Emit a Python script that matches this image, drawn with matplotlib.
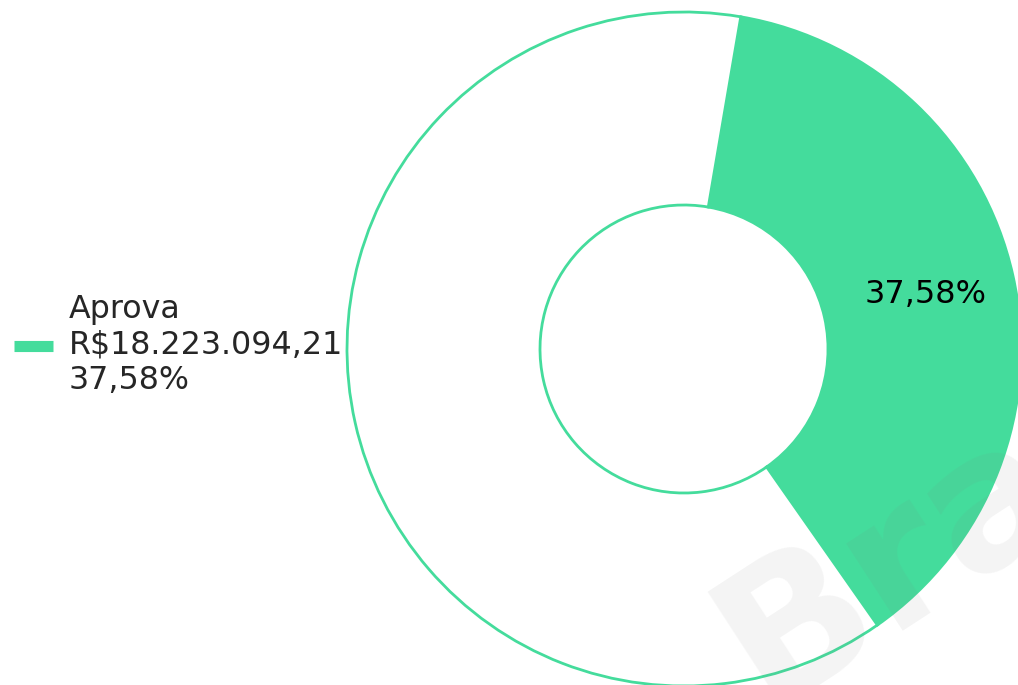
import matplotlib.pyplot as plt
from matplotlib.lines import Line2D

# =========================
# DATA
# =========================
categorias = ["Aprova", "Restante"]
valores = [18223094.21, 30268375.00]
legenda_valor = "R$18.223.094,21"
legenda_pct = "37,58%"

VERDE = "#44DC9C"

# =========================
# FIGURE
# =========================
W, H = 1018, 685
fig = plt.figure(figsize=(W / 100, H / 100), dpi=100)
ax = fig.add_axes([0, 0, 1, 1])

cx, cy, r = 684, 349, 337  # centre and radius in pixels


def pct_label(p):
    if p < 50:
        return f"{p:.2f}".replace(".", ",") + "%"
    return ""


wedges, texts, autotexts = ax.pie(
    valores,
    colors=[VERDE, "white"],
    startangle=80.3,
    counterclock=False,
    radius=1,
    autopct=pct_label,
    pctdistance=0.735,
    wedgeprops=dict(width=1 - 144 / 337, edgecolor=VERDE, linewidth=2),
    textprops=dict(fontsize=23, color="black"),
)

ax.set_aspect("auto")
ax.set_xlim(-cx / r, (W - cx) / r)
ax.set_ylim((cy - H) / r, cy / r)
ax.axis("off")

# watermark
fig.text(766 / W, 1 - 708 / H, "Bra", fontsize=137, fontweight="bold",
         color="#808080", alpha=0.085, rotation=33, rotation_mode="anchor",
         ha="left", va="baseline", zorder=10)

# legend
handle = Line2D([], [], color=VERDE, linewidth=8, solid_capstyle="butt")
fig.legend(
    [handle],
    [f"{categorias[0]}\n{legenda_valor}\n{legenda_pct}"],
    loc="center left",
    bbox_to_anchor=(14 / W, 1 - 345 / H),
    frameon=False,
    fontsize=22.9,
    handlelength=1.23,
    handletextpad=0.5,
    borderpad=0,
    borderaxespad=0,
    labelcolor="#262626",
)

fig.savefig("out.png", dpi=100)
